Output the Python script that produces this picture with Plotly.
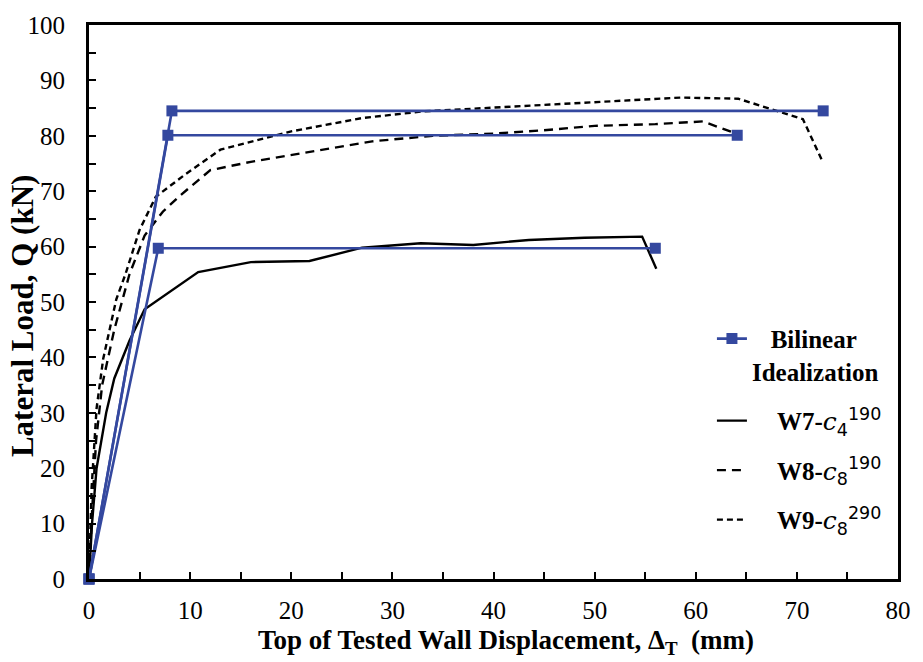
import plotly.graph_objects as go

# Wall test load-displacement data (mm, kN)
w7_x = [0, 0.3, 0.75, 1.7, 2.5, 4.0, 5.5, 8.0, 10.8, 16.0, 21.8, 27.0, 32.8, 38.0, 43.5, 49.0, 54.7, 56.1]
w7_y = [0, 10, 20, 30, 36.2, 43, 48.7, 51.8, 55.4, 57.2, 57.4, 59.8, 60.6, 60.3, 61.2, 61.6, 61.8, 56.0]

w8_x = [0, 0.3, 0.7, 1.3, 2.5, 4.0, 5.5, 7.3, 9.0, 12.0, 16.0, 22.0, 28.0, 34.0, 40.0, 45.0, 50.0, 56.0, 60.7, 64.0]
w8_y = [0, 12, 25, 35, 45, 55, 62, 66.3, 69.2, 73.8, 75.3, 77.2, 79.0, 80.0, 80.4, 81.0, 81.8, 82.1, 82.6, 80.4]

w9_x = [0, 0.26, 0.75, 1.4, 2.7, 3.6, 5.0, 6.6, 9.5, 13.0, 20.0, 27.0, 33.0, 40.2, 46.0, 52.0, 58.5, 64.2, 70.6, 72.5]
w9_y = [0, 16.5, 30.8, 39.7, 50.5, 55.0, 63.0, 69.0, 73.0, 77.5, 80.8, 83.2, 84.4, 85.1, 85.7, 86.3, 86.9, 86.7, 83.0, 75.5]

# Bilinear idealization: origin, yield point, ultimate displacement
bl7_x = [0, 6.85, 56.0]
bl7_y = [0, 59.7, 59.7]
bl8_x = [0, 7.8, 64.1]
bl8_y = [0, 80.1, 80.1]
bl9_x = [0, 8.2, 72.6]
bl9_y = [0, 84.5, 84.5]

x_ticks = [0, 10, 20, 30, 40, 50, 60, 70, 80]
y_ticks = [0, 10, 20, 30, 40, 50, 60, 70, 80, 90, 100]

BLUE = "#34489f"
SERIF = "Liberation Serif"
PAD = "\u00a0" * 4


def wall_label(name, sub, sup):
    c = "<span style=\"font-family:'DejaVu Serif';font-weight:normal\"><i>c</i></span>"
    s = "<span style=\"font-family:'DejaVu Sans';font-weight:normal\">"
    return f"{PAD}{name}-{c}<sub>{s}{sub}</span></sub><sup>{s}{sup}</span></sup>"


fig = go.Figure()

fig.add_trace(go.Scatter(x=w7_x, y=w7_y, mode="lines", name=wall_label("W7", "4", "190"),
                         line=dict(color="black", width=2.4), legendrank=2, legendgroup="w7"))
fig.add_trace(go.Scatter(x=w8_x, y=w8_y, mode="lines", name=wall_label("W8", "8", "190"),
                         line=dict(color="black", width=2.4, dash="9px,6px"), legendrank=3, legendgroup="w8"))
fig.add_trace(go.Scatter(x=w9_x, y=w9_y, mode="lines", name=wall_label("W9", "8", "290"),
                         line=dict(color="black", width=2.4, dash="6px,4px"), legendrank=4, legendgroup="w9"))

for i, (bx, by) in enumerate([(bl7_x, bl7_y), (bl8_x, bl8_y), (bl9_x, bl9_y)]):
    fig.add_trace(go.Scatter(
        x=bx, y=by, mode="lines+markers",
        name="\u00a0\u00a0\u00a0Bilinear<br>Idealization",
        line=dict(color=BLUE, width=2.6),
        marker=dict(symbol="square", size=11, color=BLUE),
        showlegend=(i == 0), legendrank=1, legendgroup="bl", cliponaxis=False,
    ))

tick_font = dict(family=SERIF, size=25, color="black")
axis_common = dict(
    showgrid=False, zeroline=False,
    showline=True, linecolor="black", linewidth=2.8, mirror=True,
    ticks="inside", ticklen=7, tickwidth=2, tickcolor="black",
    minor=dict(ticks="inside", ticklen=7, tickwidth=2, tickcolor="black", dtick=5),
)

fig.update_layout(
    xaxis=dict(range=[0, 80], tickmode="array", tickvals=x_ticks,
               ticktext=[str(v) for v in x_ticks], tickfont=tick_font,
               ticklabelstandoff=7, **axis_common),
    yaxis=dict(range=[0, 100], tickmode="array", tickvals=y_ticks,
               ticktext=[str(v) for v in y_ticks], tickfont=tick_font,
               ticklabelstandoff=16, **axis_common),
)

fig.update_layout(
    width=923, height=662,
    margin=dict(l=89, r=16, t=20, b=83),
    paper_bgcolor="white", plot_bgcolor="white",
    font=dict(family=SERIF, size=25, color="black"),
    legend=dict(
        x=0.77, y=0.475, xanchor="left", yanchor="top",
        bgcolor="rgba(0,0,0,0)", borderwidth=0,
        font=dict(family=SERIF, size=25, color="black", weight="bold"),
        valign="top", traceorder="grouped", tracegroupgap=14,
    ),
    annotations=[
        dict(text="<b>Lateral Load, Q (kN)</b>", textangle=-90,
             xref="paper", yref="paper", x=-0.082, y=0.474,
             xanchor="center", yanchor="middle", showarrow=False,
             font=dict(family=SERIF, size=31, color="black")),
        dict(text="<b>Top of Tested Wall Displacement, \u0394<sub>T</sub>  (mm)</b>",
             xref="paper", yref="paper", x=0.515, y=-0.1145,
             xanchor="center", yanchor="middle", showarrow=False,
             font=dict(family=SERIF, size=27, color="black")),
    ],
)

fig.write_html("out.html")
